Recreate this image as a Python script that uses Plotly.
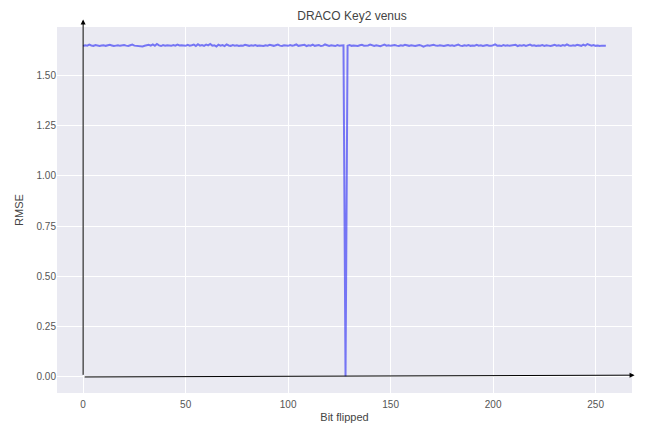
import plotly.graph_objects as go

bits = list(range(256))
rmse = [
    1.648, 1.652, 1.650, 1.655, 1.651, 1.649, 1.653, 1.650, 1.648, 1.651, 1.652, 1.649, 1.650, 1.654, 1.651, 1.648,
    1.650, 1.652, 1.649, 1.651, 1.653, 1.650, 1.648, 1.652, 1.655, 1.650, 1.649, 1.651, 1.650, 1.646, 1.649, 1.652,
    1.654, 1.650, 1.656, 1.649, 1.658, 1.651, 1.648, 1.653, 1.650, 1.652, 1.651, 1.649, 1.653, 1.650, 1.655, 1.651,
    1.652, 1.650, 1.649, 1.654, 1.650, 1.652, 1.655, 1.648, 1.657, 1.650, 1.653, 1.649, 1.655, 1.651, 1.658, 1.650,
    1.652, 1.646, 1.655, 1.650, 1.653, 1.648, 1.656, 1.651, 1.649, 1.653, 1.650, 1.652, 1.648, 1.651, 1.650, 1.654,
    1.651, 1.649, 1.652, 1.650, 1.653, 1.649, 1.651, 1.650, 1.648, 1.652, 1.650, 1.654, 1.651, 1.649, 1.652, 1.655,
    1.650, 1.648, 1.652, 1.651, 1.649, 1.653, 1.650, 1.652, 1.656, 1.649, 1.651, 1.650, 1.654, 1.648, 1.652, 1.650,
    1.655, 1.649, 1.651, 1.653, 1.648, 1.650, 1.656, 1.651, 1.649, 1.652, 1.650, 1.648, 1.653, 1.650, 1.651, 1.652,
    0.000, 1.650, 1.653, 1.649, 1.651, 1.650, 1.648, 1.652, 1.654, 1.650, 1.649, 1.651, 1.655, 1.650, 1.648, 1.652,
    1.650, 1.647, 1.651, 1.655, 1.650, 1.652, 1.649, 1.651, 1.653, 1.650, 1.648, 1.652, 1.650, 1.654, 1.651, 1.649,
    1.652, 1.650, 1.648, 1.651, 1.653, 1.650, 1.645, 1.649, 1.652, 1.650, 1.651, 1.654, 1.650, 1.649, 1.652, 1.650,
    1.648, 1.651, 1.653, 1.650, 1.652, 1.649, 1.651, 1.655, 1.650, 1.648, 1.652, 1.650, 1.653, 1.649, 1.651, 1.650,
    1.654, 1.650, 1.652, 1.648, 1.651, 1.653, 1.650, 1.649, 1.652, 1.656, 1.650, 1.651, 1.648, 1.653, 1.650, 1.652,
    1.649, 1.651, 1.650, 1.654, 1.648, 1.652, 1.650, 1.653, 1.649, 1.651, 1.655, 1.650, 1.652, 1.648, 1.651, 1.650,
    1.653, 1.649, 1.652, 1.650, 1.648, 1.651, 1.654, 1.650, 1.652, 1.649, 1.653, 1.650, 1.656, 1.651, 1.649, 1.652,
    1.650, 1.654, 1.651, 1.649, 1.655, 1.650, 1.658, 1.652, 1.650, 1.653, 1.649, 1.651, 1.648, 1.650, 1.651, 1.649,
]
x_ticks = [0, 50, 100, 150, 200, 250]
y_ticks = [0.0, 0.25, 0.5, 0.75, 1.0, 1.25, 1.5]

fig = go.Figure()
fig.add_trace(go.Scatter(x=bits, y=rmse, mode="lines",
                         line=dict(color="rgba(45,45,245,0.62)", width=2),
                         showlegend=False))

font_color = "#444444"
fig.update_layout(
    width=637, height=418,
    margin=dict(l=49, r=13, t=19, b=33, autoexpand=False),
    paper_bgcolor="white",
    plot_bgcolor="#EAEAF2",
    font=dict(family="Liberation Sans, Arial, sans-serif", size=10, color="#555555"),
    title=dict(text="DRACO Key2 venus", x=0.54, xanchor="center", y=0.982, yanchor="middle",
               pad=dict(t=0, b=0), font=dict(size=12, color=font_color)),
    xaxis=dict(range=[-12.75, 267.75], tickvals=x_ticks, ticktext=[str(v) for v in x_ticks],
               showgrid=True, gridcolor="white", gridwidth=1, zeroline=False,
               showline=False, ticks="", ticklen=0, automargin=False, ticklabelstandoff=4,
               title=dict(text="Bit flipped", font=dict(size=11, color=font_color), standoff=4)),
    yaxis=dict(range=[-0.083, 1.743], tickvals=y_ticks, ticktext=[f"{v:.2f}" for v in y_ticks],
               showgrid=True, gridcolor="white", gridwidth=1, zeroline=False,
               showline=False, ticks="", ticklen=0, automargin=False,
               title=dict(text="RMSE", font=dict(size=11, color=font_color), standoff=10)),
)

# axis arrows
fig.add_annotation(x=0, y=1.78, ax=0, ay=0, xref="x", yref="y", axref="x", ayref="y",
                   text="", showarrow=True, arrowhead=2, arrowsize=1, arrowwidth=1, arrowcolor="black")
fig.add_annotation(x=269, y=0.006, ax=0, ay=-0.003, xref="x", yref="y", axref="x", ayref="y",
                   text="", showarrow=True, arrowhead=2, arrowsize=1, arrowwidth=1, arrowcolor="black")

fig.write_html("out.html")
